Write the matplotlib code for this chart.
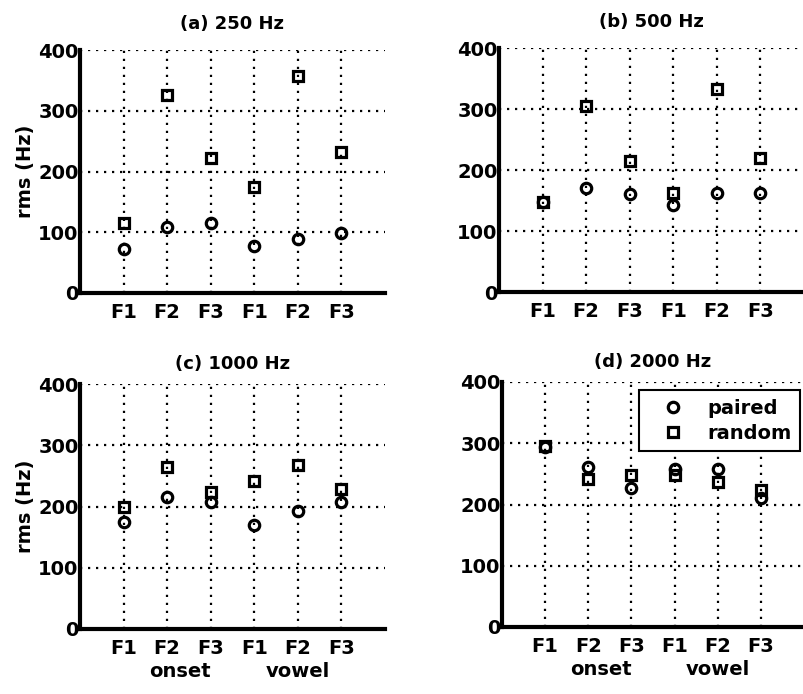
import matplotlib.pyplot as plt
import numpy as np

plt.rcParams['font.family'] = ['DejaVu Sans']
plt.rcParams['font.weight'] = 'bold'

formants = ['F1', 'F2', 'F3', 'F1', 'F2', 'F3']
titles = ['(a) 250 Hz', '(b) 500 Hz', '(c) 1000 Hz', '(d) 2000 Hz']

# rms (Hz) per formant: onset F1-F3, vowel F1-F3
paired_250 = [72, 108, 116, 78, 89, 98]
random_250 = [116, 326, 223, 175, 357, 232]
paired_500 = [147, 170, 161, 142, 162, 163]
random_500 = [148, 305, 215, 163, 333, 220]
paired_1000 = [174, 215, 207, 169, 193, 208]
random_1000 = [200, 264, 223, 241, 267, 229]
paired_2000 = [294, 262, 227, 258, 258, 210]
random_2000 = [295, 242, 248, 248, 237, 224]

paired = [paired_250, paired_500, paired_1000, paired_2000]
random_ = [random_250, random_500, random_1000, random_2000]

fig = plt.figure(figsize=(8.04, 6.94), dpi=100)
W, H = 804, 694
# axes boxes in pixels: left, top, width, height
boxes = [(80, 50, 305, 243), (499, 48, 305, 244),
         (80, 384, 305, 245), (502, 382, 302, 245)]

x = np.arange(1, 7)
for i, (l, t, w, h) in enumerate(boxes):
    ax = fig.add_axes([l / W, 1 - (t + h) / H, w / W, h / H])
    ax.plot(x, paired[i], 'o', mfc='none', mec='black', mew=2.3, ms=7.5, label='paired', clip_on=False)
    ax.plot(x, random_[i], 's', mfc='none', mec='black', mew=2.3, ms=6.5, label='random', clip_on=False)
    ax.set_xlim(0, 7)
    ax.set_ylim(0, 400)
    ax.set_xticks(x)
    ax.set_xticklabels(formants)
    ax.set_yticks([0, 100, 200, 300, 400])
    ax.tick_params(length=0, labelsize=14)
    ax.tick_params(axis='x', pad=7)
    ax.tick_params(axis='y', pad=1)
    for lab in ax.get_xticklabels() + ax.get_yticklabels():
        lab.set_fontweight('bold')
    ax.grid(True, linestyle=(0, (1, 2.6)), color='black', linewidth=1.6)
    ax.set_axisbelow(True)
    for s in ['top', 'right']:
        ax.spines[s].set_visible(False)
    for s in ['left', 'bottom']:
        ax.spines[s].set_linewidth(3)
    ax.set_title(titles[i], fontsize=13, fontweight='bold', pad=15 if i < 2 else 11)
    if i % 2 == 0:
        ax.set_ylabel('rms (Hz)', fontsize=14, fontweight='bold', labelpad=2)
    if i >= 2:
        ax.text(2.3, -0.175, 'onset', transform=ax.get_xaxis_transform(),
                ha='center', va='center', fontsize=14, fontweight='bold')
        ax.text(5.0, -0.175, 'vowel', transform=ax.get_xaxis_transform(),
                ha='center', va='center', fontsize=14, fontweight='bold')
    if i == 3:
        leg = ax.legend(loc='upper right', bbox_to_anchor=(0.987, 0.967), fontsize=14,
                        frameon=True, fancybox=False, edgecolor='black', framealpha=1,
                        borderaxespad=0, handletextpad=0.45, borderpad=0.45,
                        labelspacing=0.3, handlelength=2.6)
        leg.get_frame().set_linewidth(1.5)
        for txt in leg.get_texts():
            txt.set_fontweight('bold')

fig.savefig('out.png', dpi=100)
